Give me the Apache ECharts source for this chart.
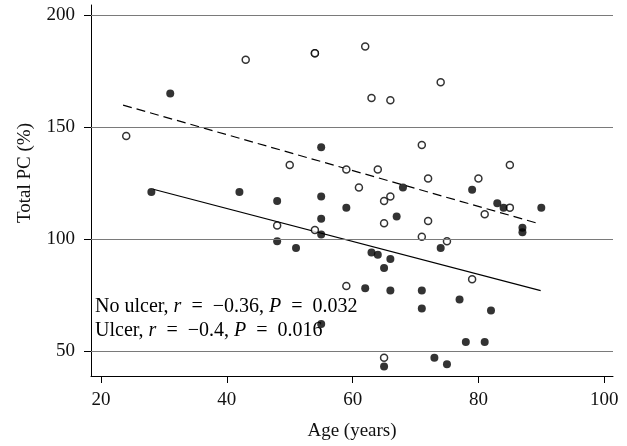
<!DOCTYPE html>
<html>
<head>
<meta charset="utf-8">
<script src="https://cdn.jsdelivr.net/npm/echarts@6/dist/echarts.min.js"></script>
<style>
  html, body { margin: 0; padding: 0; background: #fff; }
  #myChart { width: 627px; height: 446px; }
</style>
</head>
<body>
<div id="myChart"></div>
<script>
  // open circles (age, total PC)
  let openAge = [24, 43, 54, 54, 62, 74, 63, 66, 71, 50, 59, 64, 85, 61, 72, 80, 66, 65, 48, 54, 85, 81, 65, 72, 71, 75, 59, 79, 65];
  let openPC  = [146, 180, 183, 183, 186, 170, 163, 162, 142, 133, 131, 131, 133, 123, 127, 127, 119, 117, 106, 104, 114, 111, 107, 108, 101, 99, 79, 82, 47];
  // filled circles
  let filledAge = [31, 55, 28, 42, 55, 48, 59, 55, 55, 48, 51, 55, 68, 79, 83, 84, 90, 67, 87, 87, 74, 63, 64, 66, 65, 62, 66, 71, 77, 71, 82, 78, 81, 73, 65, 75];
  let filledPC  = [165, 141, 121, 121, 119, 117, 114, 109, 102, 99, 96, 62, 123, 122, 116, 114, 114, 110, 105, 103, 96, 94, 93, 91, 87, 78, 77, 77, 73, 69, 68, 54, 54, 47, 43, 44];
  // fitted lines, end points
  let dashedFit = [[23.5, 159.8], [89.8, 106.7]];
  let solidFit = [[28.3, 122.2], [89.9, 76.9]];
  // ticks
  let xTicks = [20, 40, 60, 80, 100];
  let yTicks = [50, 100, 150, 200];

  let font = 'Liberation Serif';
  let sp = '\u2002'; // wider space round "=" like in the original

  function pairs(xs, ys) {
    return xs.map(function (x, i) { return [x, ys[i]]; });
  }

  let richStyle = {
    n: { fontFamily: font, fontSize: 20, color: '#111' },
    i: { fontFamily: font, fontSize: 20, fontStyle: 'italic', color: '#111' }
  };

  let myChart = echarts.init(document.getElementById('myChart'));
  myChart.setOption({
    animation: false,
    grid: { left: 91, right: 14, top: 5, bottom: 70 },
    xAxis: {
      type: 'value',
      min: 18.4,
      max: 101.4,
      name: 'Age (years)',
      nameLocation: 'middle',
      nameGap: 46,
      nameTextStyle: { fontFamily: font, fontSize: 19, color: '#111' },
      axisLine: { onZero: false, lineStyle: { color: '#000', width: 1 } },
      axisTick: { length: 7, customValues: xTicks, lineStyle: { color: '#000' } },
      axisLabel: { customValues: xTicks, margin: 15, fontFamily: font, fontSize: 19, color: '#111' },
      splitLine: { show: false }
    },
    yAxis: {
      type: 'value',
      min: 38.8,
      max: 204.5,
      axisLine: { show: true, onZero: false, lineStyle: { color: '#000', width: 1 } },
      axisTick: { show: true, length: 7, customValues: yTicks, lineStyle: { color: '#000' } },
      axisLabel: { customValues: yTicks, margin: 16, fontFamily: font, fontSize: 19, color: '#111' },
      splitLine: { show: false }
    },
    graphic: [
      {
        type: 'text',
        x: 25, y: 173,
        rotation: Math.PI / 2,
        style: { text: 'Total PC (%)', font: '19px "Liberation Serif"', fill: '#111', align: 'center', verticalAlign: 'middle' }
      },
      {
        type: 'text',
        x: 95, y: 297,
        style: {
          text: '{n|No ulcer, }{i|r}{n|' + sp + '=' + sp + '−0.36, }{i|P}{n|' + sp + '=' + sp + '0.032}',
          rich: richStyle
        }
      },
      {
        type: 'text',
        x: 95, y: 321,
        style: {
          text: '{n|Ulcer, }{i|r}{n|' + sp + '=' + sp + '−0.4, }{i|P}{n|' + sp + '=' + sp + '0.016}',
          rich: richStyle
        }
      }
    ],
    series: [
      {
        // horizontal grid lines
        type: 'line',
        data: [],
        z: 1,
        markLine: {
          silent: true,
          symbol: 'none',
          label: { show: false },
          lineStyle: { color: '#7a7a7a', width: 1, type: 'solid' },
          data: yTicks.map(function (v) { return { yAxis: v }; })
        }
      },
      {
        type: 'line',
        data: dashedFit,
        symbol: 'none',
        z: 2,
        lineStyle: { color: '#000', width: 1.2, type: [9, 5] }
      },
      {
        type: 'line',
        data: solidFit,
        symbol: 'none',
        z: 2,
        lineStyle: { color: '#000', width: 1.2 }
      },
      {
        type: 'scatter',
        data: pairs(openAge, openPC),
        symbol: 'circle',
        symbolSize: 7,
        z: 3,
        itemStyle: { color: '#fff', borderColor: '#000', borderWidth: 1.5 }
      },
      {
        type: 'scatter',
        data: pairs(filledAge, filledPC),
        symbol: 'circle',
        symbolSize: 8,
        z: 3,
        itemStyle: { color: '#000' }
      }
    ]
  });
</script>
</body>
</html>
